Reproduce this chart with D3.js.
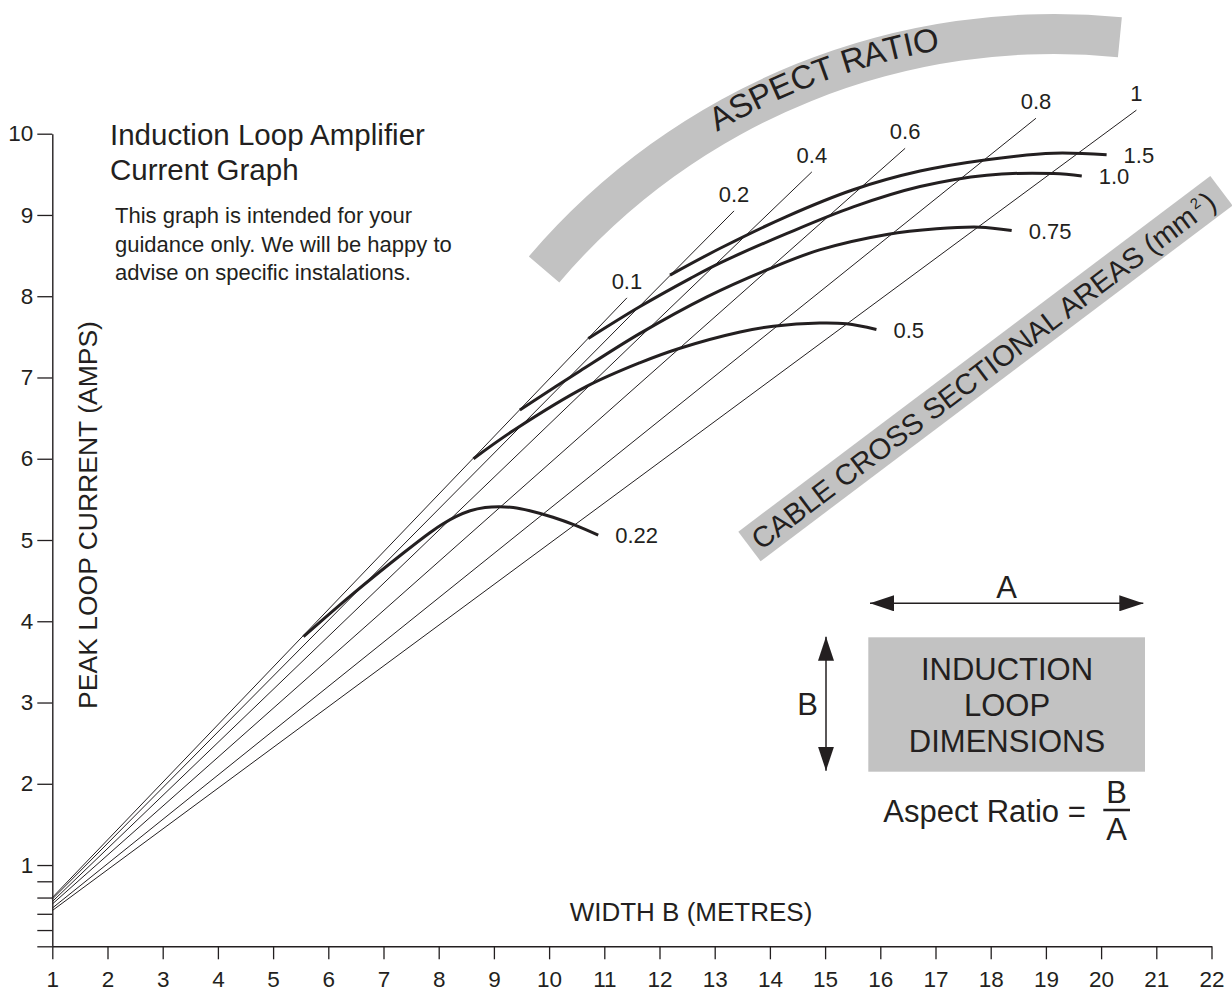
<!DOCTYPE html>
<html>
<head>
<meta charset="utf-8">
<script src="https://cdn.jsdelivr.net/npm/d3@7"></script>
<style>
body { margin: 0; background: #fff; }
text { font-family: Arial, "Liberation Sans", Helvetica, sans-serif; fill: #231f20; }
</style>
</head>
<body>
<div id="chart"></div>
<script>
// axis ticks
var xTicks = [1,2,3,4,5,6,7,8,9,10,11,12,13,14,15,16,17,18,19,20,21,22]
var yTicks = [1,2,3,4,5,6,7,8,9,10]
var yMinorTicks = [0, 0.2, 0.4, 0.6, 0.8]

// aspect ratio lines: current at width 1 and the point where each line stops
var aspectLabels = ["0.1", "0.2", "0.4", "0.6", "0.8", "1"]
var aspectStart = [0.60, 0.58, 0.55, 0.52, 0.47, 0.44]
var aspectEndWidth = [11.41, 13.35, 14.76, 16.45, 18.82, 20.64]
var aspectEndCurrent = [7.98, 9.05, 9.53, 9.82, 10.19, 10.29]

// cable cross sectional area curves, [width, current]
var cableLabels = ["0.22", "0.5", "0.75", "1.0", "1.5"]
var cable022 = [[5.55,3.81],[6.45,4.34],[7.36,4.84],[7.84,5.09],[8.08,5.20],[8.32,5.29],[8.57,5.36],[8.84,5.40],[9.10,5.41],[9.35,5.40],[9.65,5.36],[10.07,5.28],[10.48,5.18],[10.89,5.06]]
var cable05 = [[8.63,6.00],[9.36,6.35],[10.68,6.89],[11.64,7.18],[12.37,7.36],[13.46,7.56],[14.06,7.63],[14.90,7.67],[15.39,7.66],[15.93,7.59]]
var cable075 = [[9.47,6.60],[10.56,7.08],[11.64,7.54],[12.85,7.99],[14.00,8.34],[14.90,8.57],[16.12,8.76],[17.02,8.83],[17.81,8.85],[18.38,8.81]]
var cable10 = [[10.71,7.48],[11.64,7.87],[12.56,8.22],[13.10,8.41],[14.30,8.77],[15.51,9.10],[16.72,9.35],[17.93,9.49],[19.14,9.51],[19.65,9.48]]
var cable15 = [[12.19,8.26],[13.10,8.59],[14.30,8.98],[15.51,9.31],[16.72,9.54],[17.93,9.68],[19.14,9.76],[20.10,9.74]]
var cableCurves = [cable022, cable05, cable075, cable10, cable15]

var ink = "#231f20"
var grey = "#c2c2c2"

var svg = d3.select("#chart")
  .append("svg")
  .attr("width", 1232)
  .attr("height", 992)

var x = d3.scaleLinear()
    .domain([1, 22])
    .range([52.3, 1211.5])
var y = d3.scaleLinear()
    .domain([0, 10])
    .range([946.3, 133.7])

// arrow heads for the loop diagram
svg.append("defs")
  .append("marker")
  .attr("id", "arrow")
  .attr("markerUnits", "userSpaceOnUse")
  .attr("viewBox", "0 0 24 16")
  .attr("markerWidth", 24)
  .attr("markerHeight", 16)
  .attr("refX", 24)
  .attr("refY", 8)
  .attr("orient", "auto-start-reverse")
  .append("path")
  .attr("d", "M0,0 L24,8 L0,16 Z")
  .attr("fill", ink)

// ---- grey "ASPECT RATIO" arc ----
var arcCx = 1054, arcCy = 704
svg.append("path")
  .attr("transform", "translate(" + arcCx + "," + arcCy + ")")
  .attr("d", d3.arc()({innerRadius: 650, outerRadius: 690, startAngle: -0.865, endAngle: 0.0985}))
  .attr("fill", grey)

function arcPoint(r, a){
    return [arcCx + r * Math.sin(a), arcCy - r * Math.cos(a)]
}
// letters placed one by one along the arc
var aspectTitle = "ASPECT RATIO"
var measure = svg.append("text").attr("font-size", 33).text(aspectTitle)
var advances = aspectTitle.split("").map(function(c, i){
    return measure.node().getSubStringLength(i, 1)
})
var titleLength = d3.sum(advances)
measure.remove()
var rText = 664, midAngle = -0.352
var s = -titleLength / 2
advances.forEach(function(w, i){
    var a = midAngle + (s + w / 2) / rText
    var p = arcPoint(rText, a)
    if(aspectTitle[i] != " "){
        svg.append("text")
          .attr("transform", "translate(" + p[0] + "," + p[1] + ") rotate(" + (a * 180 / Math.PI) + ")")
          .attr("text-anchor", "middle")
          .attr("font-size", 33)
          .text(aspectTitle[i])
    }
    s += w
})

// ---- grey diagonal band ----
var band = svg.append("g")
  .attr("transform", "translate(738.3,531.7) rotate(-37)")
band.append("rect")
  .attr("width", 591)
  .attr("height", 37)
  .attr("fill", grey)
var bandText = band.append("text")
  .attr("x", 293)
  .attr("y", 18.5)
  .attr("dy", "0.36em")
  .attr("text-anchor", "middle")
  .attr("font-size", 29)
bandText.append("tspan").text("CABLE CROSS SECTIONAL AREAS (mm")
bandText.append("tspan").attr("dx", 3).attr("dy", -11).attr("font-size", 15).text("2")
bandText.append("tspan").attr("dx", 3).attr("dy", 11).text(")")

// ---- axes ----
var xAxis = svg.append("g")
  .attr("transform", "translate(0," + y(0) + ")")
  .call(d3.axisBottom(x)
    .tickValues(xTicks)
    .tickSize(13)
    .tickPadding(12)
    .tickSizeOuter(0)
    .tickFormat(d3.format("d")))
var yAxis = svg.append("g")
  .attr("transform", "translate(" + x(1) + ",0)")
  .call(d3.axisLeft(y)
    .tickValues(yMinorTicks.concat(yTicks))
    .tickSize(15)
    .tickPadding(4)
    .tickSizeOuter(0)
    .tickFormat(function(d){
        return yTicks.indexOf(d) >= 0 ? d : ""
    }))
;[xAxis, yAxis].forEach(function(g){
    g.attr("font-size", 22.5).attr("font-family", null)
    g.select(".domain").attr("stroke", ink).attr("stroke-width", 1.4)
    g.selectAll(".tick line").attr("stroke", ink).attr("stroke-width", 1.3)
})

// ---- aspect ratio lines ----
svg.selectAll(".aspect")
  .data(aspectLabels)
  .enter()
  .append("line")
  .attr("class", "aspect")
  .attr("x1", x(1))
  .attr("y1", function(d, i){ return y(aspectStart[i]) })
  .attr("x2", function(d, i){ return x(aspectEndWidth[i]) })
  .attr("y2", function(d, i){ return y(aspectEndCurrent[i]) })
  .attr("stroke", ink)
  .attr("stroke-width", 1)
svg.selectAll(".aspectLabel")
  .data(aspectLabels)
  .enter()
  .append("text")
  .attr("class", "aspectLabel")
  .attr("x", function(d, i){ return x(aspectEndWidth[i]) })
  .attr("y", function(d, i){ return y(aspectEndCurrent[i]) - 9 })
  .attr("text-anchor", "middle")
  .attr("font-size", 22)
  .text(function(d){ return d })

// ---- cable curves ----
var line = d3.line()
    .x(function(d){ return x(d[0]) })
    .y(function(d){ return y(d[1]) })
    .curve(d3.curveCatmullRom.alpha(0.5))
svg.selectAll(".cable")
  .data(cableCurves)
  .enter()
  .append("path")
  .attr("class", "cable")
  .attr("d", line)
  .attr("fill", "none")
  .attr("stroke", ink)
  .attr("stroke-width", 3)
svg.selectAll(".cableLabel")
  .data(cableLabels)
  .enter()
  .append("text")
  .attr("class", "cableLabel")
  .attr("x", function(d, i){ return x(cableCurves[i][cableCurves[i].length - 1][0]) + 17 })
  .attr("y", function(d, i){ return y(cableCurves[i][cableCurves[i].length - 1][1]) })
  .attr("dy", "0.38em")
  .attr("font-size", 22)
  .text(function(d){ return d })

// ---- titles ----
svg.append("text").attr("x", 110).attr("y", 145).attr("font-size", 29.5).text("Induction Loop Amplifier")
svg.append("text").attr("x", 110).attr("y", 180).attr("font-size", 29.5).text("Current Graph")
var notes = ["This graph is intended for your", "guidance only. We will be happy to", "advise on specific instalations."]
svg.selectAll(".note")
  .data(notes)
  .enter()
  .append("text")
  .attr("class", "note")
  .attr("x", 115)
  .attr("y", function(d, i){ return 223 + i * 28.5 })
  .attr("font-size", 22)
  .text(function(d){ return d })

svg.append("text")
  .attr("transform", "translate(97,515) rotate(-90)")
  .attr("text-anchor", "middle")
  .attr("font-size", 26.5)
  .text("PEAK LOOP CURRENT (AMPS)")
svg.append("text")
  .attr("x", 691)
  .attr("y", 921)
  .attr("text-anchor", "middle")
  .attr("font-size", 26)
  .text("WIDTH B (METRES)")

// ---- loop dimension diagram ----
svg.append("line")
  .attr("x1", 870).attr("y1", 603.3).attr("x2", 1143.3).attr("y2", 603.3)
  .attr("stroke", ink).attr("stroke-width", 1.5)
  .attr("marker-start", "url(#arrow)").attr("marker-end", "url(#arrow)")
svg.append("line")
  .attr("x1", 826).attr("y1", 636.7).attr("x2", 826).attr("y2", 770.7)
  .attr("stroke", ink).attr("stroke-width", 1.5)
  .attr("marker-start", "url(#arrow)").attr("marker-end", "url(#arrow)")
svg.append("rect")
  .attr("x", 868.3).attr("y", 637.3).attr("width", 276.7).attr("height", 134.4)
  .attr("fill", grey)
svg.selectAll(".box")
  .data(["INDUCTION", "LOOP", "DIMENSIONS"])
  .enter()
  .append("text")
  .attr("class", "box")
  .attr("x", 1007)
  .attr("y", function(d, i){ return 680 + i * 36 })
  .attr("text-anchor", "middle")
  .attr("font-size", 31)
  .text(function(d){ return d })
svg.append("text").attr("x", 1006.7).attr("y", 598.3).attr("text-anchor", "middle").attr("font-size", 31).text("A")
svg.append("text").attr("x", 818).attr("y", 715).attr("text-anchor", "end").attr("font-size", 31).text("B")
svg.append("text").attr("x", 883.3).attr("y", 821.7).attr("font-size", 31).text("Aspect Ratio =")
svg.append("text").attr("x", 1116.7).attr("y", 803.3).attr("text-anchor", "middle").attr("font-size", 31).text("B")
svg.append("line")
  .attr("x1", 1103.3).attr("y1", 810).attr("x2", 1130).attr("y2", 810)
  .attr("stroke", ink).attr("stroke-width", 2.5)
svg.append("text").attr("x", 1116.7).attr("y", 840).attr("text-anchor", "middle").attr("font-size", 31).text("A")
</script>
</body>
</html>
